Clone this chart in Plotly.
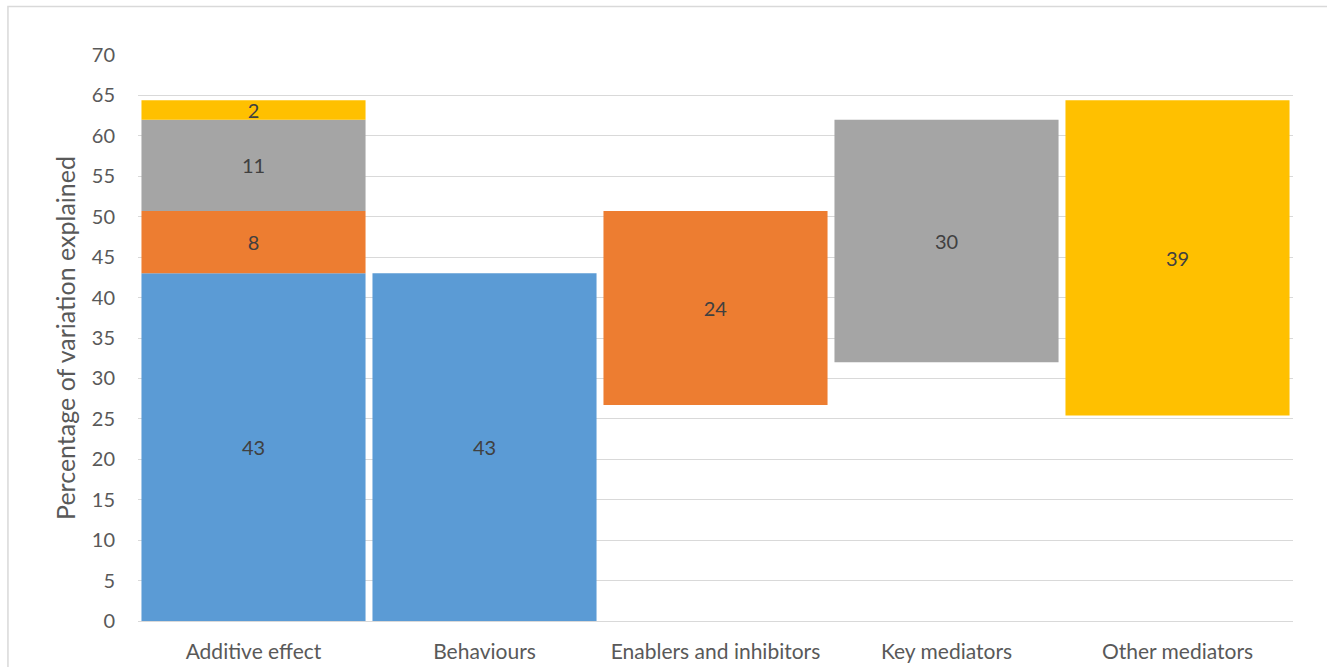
import plotly.graph_objects as go

# Categories along the x axis
categories = ["Additive effect", "Behaviours", "Enablers and inhibitors",
              "Key mediators", "Other mediators"]

# Components stacked in the "Additive effect" column
additive_parts = [43.0, 7.7, 11.3, 2.4]

# Stand-alone contribution of each factor group
standalone = {"Behaviours": 43.0, "Enablers and inhibitors": 24.0,
              "Key mediators": 30.0, "Other mediators": 39.0}

colors = ["#5B9BD5", "#ED7D31", "#A5A5A5", "#FFC000"]
groups = ["Behaviours", "Enablers and inhibitors", "Key mediators", "Other mediators"]

# Running top of the additive stack
tops = []
acc = 0.0
for v in additive_parts:
    acc += v
    tops.append(acc)

fig = go.Figure()
for i, g in enumerate(groups):
    part_base = tops[i] - additive_parts[i]
    own = standalone[g]
    own_base = tops[i] - own
    fig.add_trace(go.Bar(
        x=[categories[0], g],
        y=[additive_parts[i], own],
        base=[part_base, own_base],
        marker=dict(color=colors[i], line=dict(width=0)),
        texttemplate="%{y:.0f}",
        textposition="inside",
        insidetextanchor="middle",
        constraintext="none",
        textangle=0,
        textfont=dict(color="#404040", size=20, family="Lato"),
        hoverinfo="skip",
        showlegend=False,
    ))

fig.update_layout(
    width=1327, height=667,
    barmode="overlay",
    bargap=0.03,
    plot_bgcolor="white",
    paper_bgcolor="white",
    margin=dict(l=138, r=34, t=55, b=46, autoexpand=False),
    font=dict(family="Lato", color="#595959", size=20),
)
fig.update_yaxes(
    range=[0, 70], dtick=5, tick0=0,
    showgrid=True, gridcolor="#D9D9D9", gridwidth=1,
    zeroline=False, showline=False,
    ticks="", ticklabelstandoff=22,
    tickfont=dict(size=20, color="#595959"),
    title=dict(text="Percentage of variation explained", standoff=9,
               font=dict(size=25, color="#595959")),
)
fig.update_xaxes(
    showline=True, linecolor="#D9D9D9", linewidth=1,
    ticks="", tickfont=dict(size=21, color="#595959"),
    ticklabelstandoff=12,
)
# Chart area border
fig.add_shape(type="rect", xref="paper", yref="paper",
              x0=-0.1126, x1=1.1, y0=-0.15, y1=1.0855,
              line=dict(color="#D9D9D9", width=1.5), fillcolor="rgba(0,0,0,0)",
              layer="below")

fig.write_html("out.html")
